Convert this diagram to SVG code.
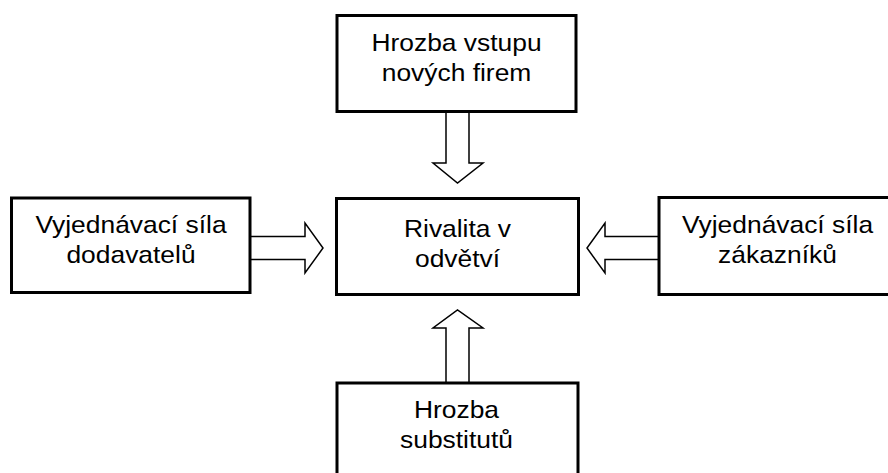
<svg xmlns="http://www.w3.org/2000/svg" width="888" height="473" viewBox="0 0 888 473">
<style>
.box{fill:#fff;stroke:#000;stroke-width:3}
.arr{fill:#fff;stroke:#000;stroke-width:1.5;stroke-linejoin:miter}
text{font-family:"Liberation Sans",Arial,sans-serif;font-size:24px;fill:#000;text-anchor:middle}
</style>
<rect width="888" height="473" fill="#fff"/>
<g id="connectors">
<polygon class="arr" points="446,111 469,111 469,163 483,163 457.5,183 433,163 446,163"/>
<polygon class="arr" points="446,383 469,383 469,328 483,328 457.5,310 433,328 446,328"/>
<polygon class="arr" points="250,236.5 305,236.5 305,223 323,248 305,273 305,259.5 250,259.5"/>
<polygon class="arr" points="659,236.5 605,236.5 605,223 587,248 605,273 605,259.5 659,259.5"/>
</g>
<g id="top">
<rect class="box" x="337" y="15.5" width="239" height="96"/>
<text transform="translate(456.5,51) scale(1.1,1)">Hrozba vstupu</text>
<text transform="translate(456.5,81) scale(1.1,1)">nových firem</text>
</g>
<g id="center">
<rect class="box" x="336.5" y="198.5" width="242" height="96"/>
<text transform="translate(457.5,237) scale(1.1,1)">Rivalita v</text>
<text transform="translate(457.5,267) scale(1.1,1)">odvětví</text>
</g>
<g id="left">
<rect class="box" x="11.5" y="198" width="238.5" height="94.5"/>
<text transform="translate(131,233) scale(1.1,1)">Vyjednávací síla</text>
<text transform="translate(131,263) scale(1.1,1)">dodavatelů</text>
</g>
<g id="right">
<rect class="box" x="659" y="197.5" width="238" height="97"/>
<text transform="translate(777.5,233) scale(1.1,1)">Vyjednávací síla</text>
<text transform="translate(777.5,263) scale(1.1,1)">zákazníků</text>
</g>
<g id="bottom">
<rect class="box" x="337" y="383" width="241" height="110"/>
<text transform="translate(456.5,418) scale(1.1,1)">Hrozba</text>
<text transform="translate(456.5,448) scale(1.1,1)">substitutů</text>
</g>
</svg>
